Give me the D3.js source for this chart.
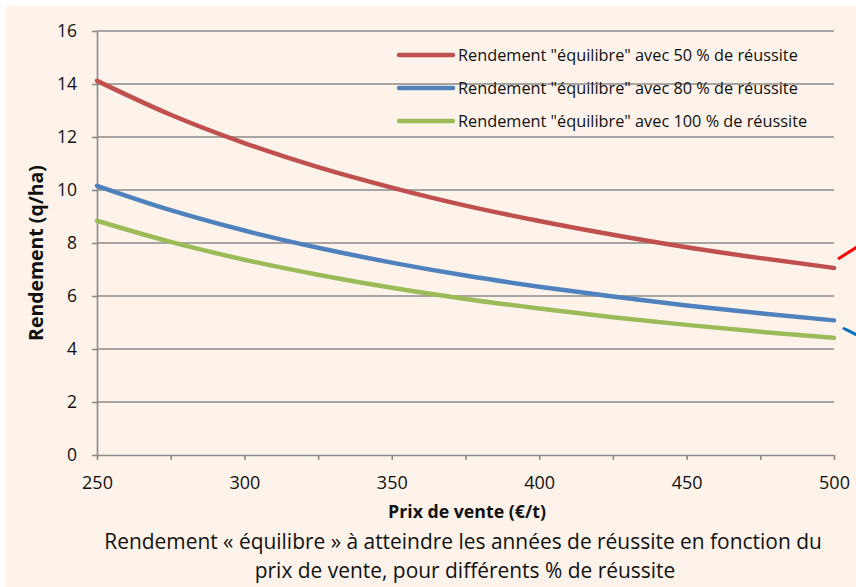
<!DOCTYPE html>
<html>
<head>
<meta charset="utf-8">
<script src="https://cdn.jsdelivr.net/npm/d3@7"></script>
<style>
  body { margin: 0; background: #fff; }
  text { font-family: "Open Sans", "Noto Sans", sans-serif; fill: #111; }
</style>
</head>
<body>
<div id="svganchor"></div>
<script>
let width = 856;
let height = 587;
let margin = ({top: 31, right: 22, bottom: 132, left: 97});

// prix de vente (€/t)
let prix = [250, 275, 300, 325, 350, 375, 400, 425, 450, 475, 500];

// rendement "équilibre" (q/ha)
let reussite50 = [14.12, 12.84, 11.77, 10.86, 10.09, 9.41, 8.83, 8.31, 7.84, 7.43, 7.06];
let reussite80 = [10.16, 9.24, 8.47, 7.82, 7.26, 6.77, 6.35, 5.98, 5.64, 5.35, 5.08];
let reussite100 = [8.84, 8.04, 7.37, 6.80, 6.31, 5.89, 5.53, 5.20, 4.91, 4.65, 4.42];

let seriesNames = [
    'Rendement "équilibre" avec 50 % de réussite',
    'Rendement "équilibre" avec 80 % de réussite',
    'Rendement "équilibre" avec 100 % de réussite'
];
let seriesColors = ["#C0504D", "#4F81BD", "#9BBB59"];

let yTicks = [0, 2, 4, 6, 8, 10, 12, 14, 16];
let xLabels = [250, 300, 350, 400, 450, 500];
let xMinor = [250, 275, 300, 325, 350, 375, 400, 425, 450, 475, 500];

let series = [reussite50, reussite80, reussite100].map(function(vals, i) {
    return {name: seriesNames[i], color: seriesColors[i],
            values: vals.map(function(v, j) { return {x: prix[j], y: v}; })};
});

// scale a text's font so it spans the wanted width
function fit(sel, target) {
    let fs = parseFloat(sel.style("font-size"));
    let w = sel.node().getComputedTextLength();
    sel.style("font-size", (fs * target / w) + "px");
}

let svg = d3.select("#svganchor")
    .append("svg")
    .attr("width", width)
    .attr("height", height);

// peach background
svg.append("rect")
    .attr("x", 6).attr("y", 6)
    .attr("width", width - 6).attr("height", height - 6)
    .attr("fill", "#FDF3EA");

let xScale = d3.scaleLinear().domain([250, 500]).range([margin.left, width - margin.right]);
let yScale = d3.scaleLinear().domain([0, 16]).range([height - margin.bottom, margin.top]);

// gridlines
svg.append("g")
    .selectAll("line")
    .data(yTicks.slice(1))
    .join("line")
    .attr("x1", margin.left).attr("x2", width - margin.right)
    .attr("y1", d => yScale(d)).attr("y2", d => yScale(d))
    .attr("stroke", "#8A8A8A").attr("stroke-width", 1.6);

// y axis
let yAxis = svg.append("g")
    .attr("transform", "translate(" + margin.left + ",0)")
    .call(d3.axisLeft(yScale).tickValues(yTicks).tickSize(5).tickPadding(15).tickSizeOuter(0));
yAxis.select(".domain").attr("stroke", "#8A8A8A").attr("stroke-width", 1.6);
yAxis.selectAll(".tick line").attr("stroke", "#8A8A8A").attr("stroke-width", 1.6);
yAxis.selectAll(".tick text").style("font-size", "17.5px").attr("fill", "#111");

// x axis: minor ticks every 25, labels every 50
let xAxis = svg.append("g")
    .attr("transform", "translate(0," + (height - margin.bottom) + ")")
    .call(d3.axisBottom(xScale).tickValues(xMinor).tickSize(5).tickPadding(16).tickSizeOuter(0)
        .tickFormat(d => xLabels.includes(d) ? d : ""));
xAxis.select(".domain").attr("stroke", "#8A8A8A").attr("stroke-width", 1.6);
xAxis.selectAll(".tick line").attr("stroke", "#8A8A8A").attr("stroke-width", 1.6);
xAxis.selectAll(".tick text").style("font-size", "18px").attr("fill", "#111");

// curves
let line = d3.line()
    .x(d => xScale(d.x))
    .y(d => yScale(d.y))
    .curve(d3.curveMonotoneX);

svg.append("g")
    .selectAll("path")
    .data(series)
    .join("path")
    .attr("d", d => line(d.values))
    .attr("fill", "none")
    .attr("stroke", d => d.color)
    .attr("stroke-width", 4.5)
    .attr("stroke-linecap", "round");

// legend
let legend = svg.append("g").attr("transform", "translate(398,55)");
let items = legend.selectAll("g")
    .data(series)
    .join("g")
    .attr("transform", (d, i) => "translate(0," + (i * 33) + ")");
items.append("line")
    .attr("x1", 1).attr("x2", 55)
    .attr("stroke", d => d.color)
    .attr("stroke-width", 4.5)
    .attr("stroke-linecap", "round");
items.append("text")
    .attr("x", 60).attr("y", 6)
    .style("font-size", "14px")
    .text(d => d.name);
fit(items.filter((d, i) => i === 0).select("text"), 340);
let legendFs = items.filter((d, i) => i === 0).select("text").style("font-size");
items.selectAll("text").style("font-size", legendFs);

// axis titles
let yTitle = svg.append("text")
    .attr("transform", "translate(43,253) rotate(-90)")
    .attr("text-anchor", "middle")
    .style("font-size", "17px")
    .style("font-weight", "bold")
    .text("Rendement (q/ha)");
fit(yTitle, 176);

let xTitle = svg.append("text")
    .attr("x", 467).attr("y", 518)
    .attr("text-anchor", "middle")
    .style("font-size", "15px")
    .style("font-weight", "bold")
    .text("Prix de vente (€/t)");
fit(xTitle, 158);

// caption
let cap1 = svg.append("text")
    .attr("x", 463).attr("y", 549)
    .attr("text-anchor", "middle")
    .style("font-size", "20px")
    .text("Rendement « équilibre » à atteindre les années de réussite en fonction du");
fit(cap1, 718);
svg.append("text")
    .attr("x", 465).attr("y", 578)
    .attr("text-anchor", "middle")
    .style("font-size", cap1.style("font-size"))
    .text("prix de vente,  pour différents % de réussite");

// arrow stubs coming in from the right edge
svg.append("line")
    .attr("x1", 838).attr("y1", 259).attr("x2", 857).attr("y2", 247)
    .attr("stroke", "#FF0000").attr("stroke-width", 3);
svg.append("line")
    .attr("x1", 843).attr("y1", 328).attr("x2", 857).attr("y2", 335)
    .attr("stroke", "#0070C0").attr("stroke-width", 3);
</script>
</body>
</html>
